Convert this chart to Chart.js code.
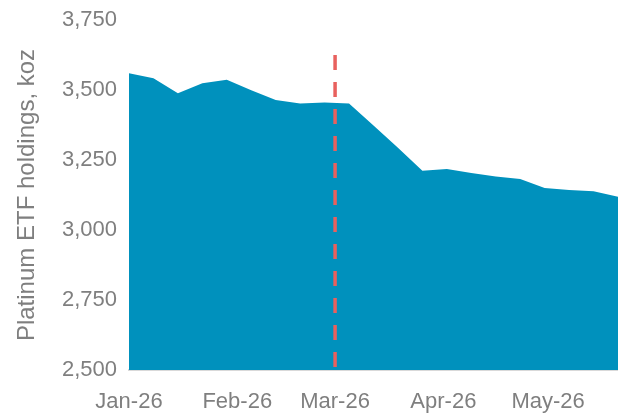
<!DOCTYPE html>
<html>
<head>
<meta charset="utf-8">
<script src="https://cdn.jsdelivr.net/npm/chart.js@4/dist/chart.umd.min.js"></script>
<style>
  html, body { margin: 0; padding: 0; background: #ffffff; }
  #wrap { width: 618px; height: 414px; position: relative; }
</style>
</head>
<body>
<div id="wrap"><canvas id="c" width="618" height="414"></canvas></div>
<script>
// Days since 1 Jan 2026 (weekly observations)
const days = [0, 7, 14, 21, 28, 35, 42, 49, 56, 63, 70, 77, 84, 91, 98, 105, 112, 119, 126, 133, 140];
// Platinum ETF holdings, koz
const holdings = [3560, 3542, 3488, 3524, 3537, 3499, 3464, 3452, 3455, 3452, 3373, 3294, 3212, 3218, 3204, 3191, 3182, 3150, 3143, 3138, 3119];
// Month tick positions (days since 1 Jan) and labels
const tickDays = [0, 31, 59, 90, 120];
const tickLabels = ['Jan-26', 'Feb-26', 'Mar-26', 'Apr-26', 'May-26'];
const yTicks = [2500, 2750, 3000, 3250, 3500, 3750];
// Marker line (1 Mar 2026)
const markerDay = [59, 59];
const markerVal = [3625, 2500];

const FONT = "'Liberation Sans', Arial, sans-serif";
const TXT = '#7f7f7f';

new Chart(document.getElementById('c'), {
  type: 'line',
  data: {
    datasets: [
      {
        data: markerDay.map((d, i) => ({ x: d, y: markerVal[i] })),
        borderColor: '#e8615e',
        borderWidth: 3.5,
        borderDash: [15, 12],
        borderCapStyle: 'butt',
        pointRadius: 0,
        fill: false,
        order: 0
      },
      {
        data: days.map((d, i) => ({ x: d, y: holdings[i] })),
        borderColor: '#0091bd',
        backgroundColor: '#0091bd',
        borderWidth: 0,
        pointRadius: 0,
        tension: 0,
        fill: 'start',
        order: 1
      }
    ]
  },
  options: {
    responsive: false,
    animation: false,
    devicePixelRatio: 1,
    layout: { padding: { top: 20, right: 0, bottom: 0, left: 0 } },
    plugins: { legend: { display: false }, tooltip: { enabled: false } },
    scales: {
      x: {
        type: 'linear',
        min: 0,
        max: 140,
        afterBuildTicks: s => { s.ticks = tickDays.map(v => ({ value: v })); },
        afterFit: s => { s.height = 44; },
        grid: { display: false, drawOnChartArea: false, drawTicks: true, tickLength: 7, tickColor: '#d9d9d9', tickWidth: 2 },
        border: { display: true, color: '#d9d9d9', width: 2 },
        ticks: {
          autoSkip: false,
          maxRotation: 0,
          padding: 12,
          color: TXT,
          font: { family: FONT, size: 22 },
          callback: v => { const i = tickDays.indexOf(v); return i >= 0 ? tickLabels[i] : ''; }
        }
      },
      y: {
        min: 2500,
        max: 3750,
        afterBuildTicks: s => { s.ticks = yTicks.map(v => ({ value: v })); },
        afterFit: s => { s.width = 129; s.paddingTop = 0; s.paddingBottom = 0; },
        grid: { display: false, drawTicks: false },
        border: { display: false },
        ticks: {
          padding: 12,
          color: TXT,
          font: { family: FONT, size: 22 },
          callback: v => v.toLocaleString('en-US')
        },
        title: {
          display: true,
          text: 'Platinum ETF holdings, koz',
          color: TXT,
          font: { family: FONT, size: 24 },
          padding: { top: 13, bottom: 0 }
        }
      }
    }
  }
});
</script>
</body>
</html>
